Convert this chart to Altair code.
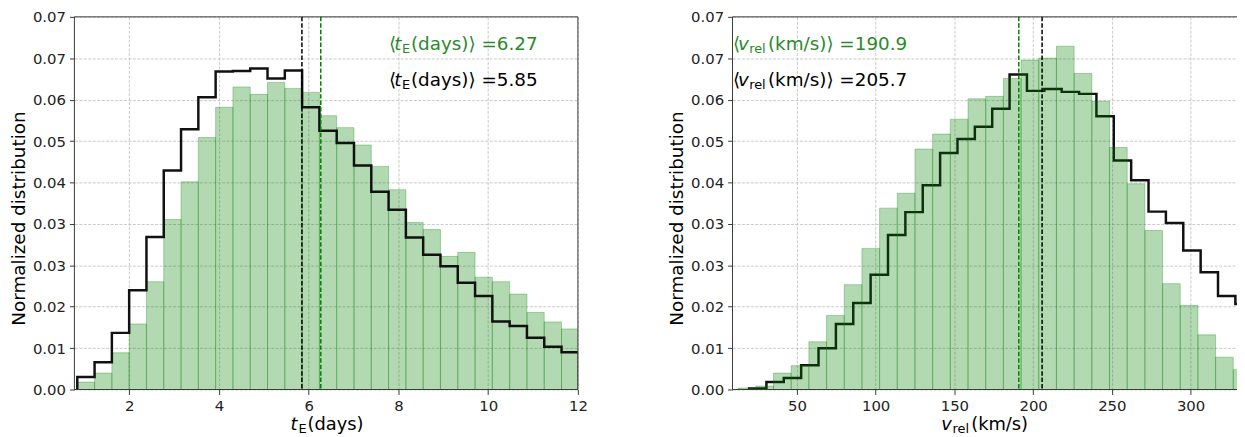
import altair as alt
import pandas as pd

# ---------------- data ----------------
Y_MAX = 0.075
Y_TICK_LABELS = ["0.00", "0.01", "0.02", "0.03", "0.03", "0.04", "0.05", "0.06", "0.07", "0.07"]
Y_TICKS = [k * Y_MAX / 9 for k in range(10)]

# left panel: Einstein crossing time t_E (days)
TE_TICKS = [2, 4, 6, 8, 10, 12]
TE_DOMAIN = [0.78, 12.0]
TE_BIN_START = 0.844
TE_BIN_WIDTH = 0.3854
te_green = [0.0015, 0.0033, 0.0074, 0.0132, 0.0217, 0.0342, 0.0418, 0.0507, 0.0568, 0.0609,
            0.0594, 0.0618, 0.0606, 0.0598, 0.0551, 0.0527, 0.0492, 0.0449, 0.0402, 0.0336,
            0.0322, 0.0268, 0.0276, 0.0226, 0.0217, 0.0192, 0.0155, 0.0136, 0.0122]
te_black = [0.0025, 0.0055, 0.0114, 0.0200, 0.0307, 0.0441, 0.0524, 0.0588, 0.0640, 0.0641,
            0.0646, 0.0626, 0.0642, 0.0568, 0.0521, 0.0496, 0.0451, 0.0398, 0.0362, 0.0306,
            0.0271, 0.0248, 0.0215, 0.0188, 0.0137, 0.0128, 0.0104, 0.0086, 0.0075]
TE_MEAN_GREEN = 6.27
TE_MEAN_BLACK = 5.85

# right panel: relative velocity v_rel (km/s)
V_TICKS = [50, 100, 150, 200, 250, 300]
V_DOMAIN = [9.1, 330.1]
V_GREEN_START = 12.67
V_GREEN_WIDTH = 11.23
v_green = [0.0003, 0.0007, 0.0033, 0.0048, 0.0096, 0.0149, 0.0211, 0.0284, 0.0365, 0.0395,
           0.0484, 0.0514, 0.0544, 0.0585, 0.0590, 0.0626, 0.0663, 0.0667, 0.0691, 0.0636,
           0.0580, 0.0487, 0.0414, 0.0320, 0.0213, 0.0169, 0.0110, 0.0065, 0.0040]
V_BLACK_START = 19.6
V_BLACK_WIDTH = 11.03
v_black = [0.0002, 0.0015, 0.0023, 0.0049, 0.0083, 0.0132, 0.0174, 0.0231, 0.0311, 0.0357,
           0.0411, 0.0476, 0.0504, 0.0529, 0.0565, 0.0634, 0.0601, 0.0605, 0.0599, 0.0595,
           0.0550, 0.0461, 0.0421, 0.0358, 0.0335, 0.0280, 0.0236, 0.0188, 0.0172]
V_MEAN_GREEN = 190.9
V_MEAN_BLACK = 205.7

# ---------------- style ----------------
FONT = "DejaVu Sans"
GREEN = "#008000"
GREEN_TEXT = "#2a8a2a"
SPINE = "#3a3a3a"
ONE = pd.DataFrame({"k": [0]})
PLOT_H = 376
ANN = 18.5   # annotation font size
SUB = 13     # subscript font size


def hist_df(start, width, values):
    n = len(values)
    return pd.DataFrame({
        "x0": [start + i * width for i in range(n)],
        "x1": [start + (i + 1) * width for i in range(n)],
        "y": values,
        "base": [0.0] * n,
    })


def step_df(start, width, values):
    n = len(values)
    xs = [start] + [start + i * width for i in range(n)] + [start + n * width] * 2
    ys = [0.0] + list(values) + [values[-1], 0.0]
    return pd.DataFrame({"x": xs, "y": ys, "order": list(range(len(xs)))})


def piece(text, x, y, size, color, italic=False):
    kw = dict(align="left", baseline="alphabetic", font=FONT, fontSize=size, color=color)
    if italic:
        kw["fontStyle"] = "italic"
    return alt.Chart(ONE).mark_text(**kw).encode(
        x=alt.value(x), y=alt.value(y), text=alt.value(text))


def panel(width, domain, ticks, gvals, gstart, gwidth, bvals, bstart, bwidth,
          mean_g, mean_b, black_on_top, texts):
    xscale = alt.Scale(domain=domain, nice=False, zero=False)
    yscale = alt.Scale(domain=[0, Y_MAX], nice=False)
    xaxis = alt.Axis(values=ticks, format="d", title=None, labelPadding=4, labelFlush=False)
    label_expr = "[" + ",".join("'%s'" % s for s in Y_TICK_LABELS) + "][round(datum.value * 120)]"
    yaxis = alt.Axis(values=Y_TICKS, labelExpr=label_expr, title="Normalized distribution",
                     labelPadding=4, titlePadding=4, titleY=203, labelFlush=False)

    bars = alt.Chart(hist_df(gstart, gwidth, gvals)).mark_rect(
        clip=True, fill=GREEN, fillOpacity=0.3, stroke=GREEN, strokeOpacity=0.3, strokeWidth=1
    ).encode(
        x=alt.X("x0:Q", scale=xscale, axis=xaxis), x2="x1:Q",
        y=alt.Y("y:Q", scale=yscale, axis=yaxis), y2="base:Q")

    step = alt.Chart(step_df(bstart, bwidth, bvals)).mark_line(
        clip=True, interpolate="step-after", color="#111111", strokeWidth=2.5
    ).encode(
        x=alt.X("x:Q", scale=xscale, axis=xaxis),
        y=alt.Y("y:Q", scale=yscale, axis=yaxis),
        order="order:Q")

    rules = alt.Chart(pd.DataFrame({"x": [mean_g, mean_b], "c": ["g", "k"]})).mark_rule(
        strokeDash=[4.5, 2], strokeWidth=1.5
    ).encode(
        x=alt.X("x:Q", scale=xscale, axis=xaxis),
        color=alt.Color("c:N", scale=alt.Scale(domain=["g", "k"], range=[GREEN, "black"]), legend=None))

    frame = alt.Chart(ONE).mark_rect(
        fillOpacity=0, stroke=SPINE, strokeWidth=1
    ).encode(
        x=alt.value(0), x2=alt.value(width), y=alt.value(0), y2=alt.value(PLOT_H))

    layers = [step, bars] if not black_on_top else [bars, step]
    layers = layers + [rules] + texts + [frame]
    return alt.layer(*layers).properties(width=width, height=PLOT_H)


# annotation / title pieces (pixel offsets inside each plot area)
A1, A2, XT = 33, 69.5, 417.3
left_texts = [
    piece("\u27e8", 317.5, A1, ANN, GREEN_TEXT),
    piece("t", 322.7, A1, ANN, GREEN_TEXT, italic=True),
    piece("E", 330.5, A1 + 3, SUB, GREEN_TEXT),
    piece("(days)\u27e9 =%.2f" % TE_MEAN_GREEN, 339.5, A1, ANN, GREEN_TEXT),
    piece("\u27e8", 317.5, A2, ANN, "black"),
    piece("t", 322.7, A2, ANN, "black", italic=True),
    piece("E", 330.5, A2 + 3, SUB, "black"),
    piece("(days)\u27e9 =%.2f" % TE_MEAN_BLACK, 339.5, A2, ANN, "black"),
    piece("t", 218, XT, 18, "black", italic=True),
    piece("E", 226, XT + 3, SUB, "black"),
    piece("(days)", 235.2, XT, 18, "black"),
]

right_texts = [
    piece("\u27e8", 0.5, A1, ANN, GREEN_TEXT),
    piece("v", 5.5, A1, ANN, GREEN_TEXT, italic=True),
    piece("rel", 16.8, A1 + 3, SUB, GREEN_TEXT),
    piece("(km/s)\u27e9 =%.1f" % V_MEAN_GREEN, 35.7, A1, ANN, GREEN_TEXT),
    piece("\u27e8", 0.5, A2, ANN, "black"),
    piece("v", 5.5, A2, ANN, "black", italic=True),
    piece("rel", 16.8, A2 + 3, SUB, "black"),
    piece("(km/s)\u27e9 =%.1f" % V_MEAN_BLACK, 35.7, A2, ANN, "black"),
    piece("v", 210.5, XT, 18, "black", italic=True),
    piece("rel", 222, XT + 3, SUB, "black"),
    piece("(km/s)", 240.8, XT, 18, "black"),
]

left = panel(508, TE_DOMAIN, TE_TICKS, te_green, TE_BIN_START, TE_BIN_WIDTH,
             te_black, TE_BIN_START, TE_BIN_WIDTH, TE_MEAN_GREEN, TE_MEAN_BLACK,
             True, left_texts)
right = panel(510, V_DOMAIN, V_TICKS, v_green, V_GREEN_START, V_GREEN_WIDTH,
              v_black, V_BLACK_START, V_BLACK_WIDTH, V_MEAN_GREEN, V_MEAN_BLACK,
              False, right_texts)

chart = alt.hconcat(left, right, spacing=80).properties(
    padding={"left": 1, "top": 0, "right": -2, "bottom": 0}
).configure_view(
    strokeWidth=0
).configure_axis(
    domain=False,
    labelFont=FONT, labelFontSize=15, labelColor="#222222",
    tickColor=SPINE, tickSize=5, tickWidth=1,
    gridColor="#b0b0b0", gridDash=[3, 1.5], gridWidth=0.8, gridOpacity=0.85,
    titleFont=FONT, titleFontSize=18.5, titleFontWeight="normal", titleColor="black",
)

chart.save("out.html", embed_options={"renderer": "svg", "actions": False})
